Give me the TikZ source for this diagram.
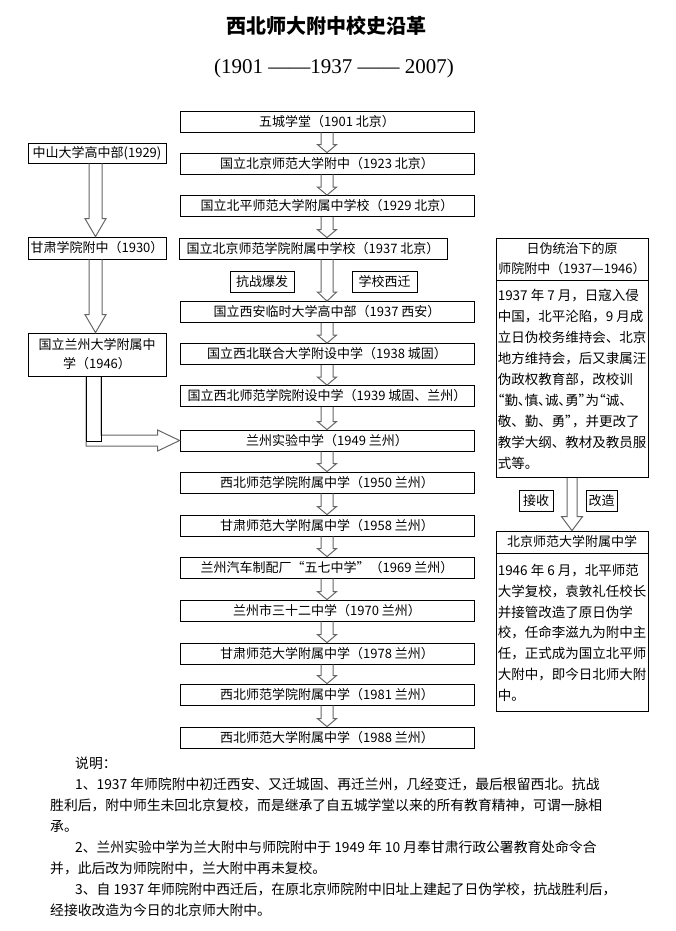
\documentclass[tikz,border=0pt]{standalone}
\usepackage{fontspec}
\setmainfont{Noto Sans CJK SC}
\newfontfamily\latinserif{Liberation Serif}
\newcommand{\narrowpunct}[1]{{\addfontfeatures{RawFeature=+palt}#1}}
\usetikzlibrary{positioning,calc}

\begin{document}
\begin{tikzpicture}[x=1pt,y=-1pt,
  stage/.style={draw=black,line width=0.8pt,minimum width=294,minimum height=21,inner sep=0pt,font=\fontsize{13}{13}\selectfont},
  side/.style={draw=black,line width=0.8pt,minimum width=138,inner sep=1pt,align=center,font=\fontsize{13}{19}\selectfont},
  tag/.style={draw=black,line width=0.8pt,minimum height=21,inner sep=1pt,font=\fontsize{13}{13}\selectfont},
  panel/.style={draw=black,line width=0.8pt,minimum width=152,inner sep=1pt},
  blockdown/.style args={#1/#2/#3}{draw=black!60,line width=1pt,to path={
    let \p1=(\tikztostart), \p2=(\tikztotarget) in
    (\x1-#1,\y1) -- (\x1-#1,\y2+#3) -- (\x1-#2,\y2+#3) -- (\x1,\y2) -- (\x1+#2,\y2+#3) -- (\x1+#1,\y2+#3) -- (\x1+#1,\y1)}},
  bentarrow/.style={draw=black!60,line width=1pt,to path={
    let \p1=(\tikztostart), \p2=(\tikztotarget) in
    (\x1-7.5pt,\y1) -- (\x1-7.5pt,\y2-5.5pt) -- (\x2-22pt,\y2-5.5pt) -- (\x2-22pt,\y2-10.5pt) -- (\x2,\y2) -- (\x2-22pt,\y2+10.5pt) -- (\x2-22pt,\y2+5.5pt) -- (\x1+7.5pt,\y2+5.5pt) -- (\x1+7.5pt,\y1)}}]
\useasboundingbox (0,0) rectangle (676,931);

% title
\node[font=\fontsize{20}{20}\selectfont\bfseries] (title) at (326,26) {西北师大附中校史沿革};
\node[font=\fontsize{21}{21}\latinserif] (years) at (334,68) {(1901 ——1937 —— 2007)};

% main line
\node[stage] (b1) at (327,121.5) {五城学堂（1901 北京）};
\node[stage] (b2) at (327,163.5) {国立北京师范大学附中（1923 北京）};
\node[stage] (b3) at (327,206) {国立北平师范大学附属中学校（1929 北京）};
\node[stage,minimum width=268] (b4) at (313,248.5) {国立北京师范学院附属中学校（1937 北京）};
\node[stage] (b5) at (327,312) {国立西安临时大学高中部（1937 西安）};
\node[stage] (b6) at (327,354) {国立西北联合大学附设中学（1938 城固）};
\node[stage] (b7) at (327,396) {国立西北师范学院附设中学（1939 城固、兰州）};
\node[stage] (b8) at (327,440.5) {兰州实验中学（1949 兰州）};
\node[stage] (b9) at (327,482.5) {西北师范学院附属中学（1950 兰州）};
\node[stage] (b10) at (327,525.5) {甘肃师范大学附属中学（1958 兰州）};
\node[stage] (b11) at (327,567.5) {兰州汽车制配厂“五七中学”（1969 兰州）};
\node[stage] (b12) at (327,610.5) {兰州市三十二中学（1970 兰州）};
\node[stage] (b13) at (327,653.5) {甘肃师范大学附属中学（1978 兰州）};
\node[stage] (b14) at (327,694.5) {西北师范学院附属中学（1981 兰州）};
\node[stage] (b15) at (327,737.5) {西北师范大学附属中学（1988 兰州）};

\node[tag,minimum width=64] (war) at (262,281.5) {抗战爆发};
\node[tag,minimum width=65] (west) at (384.5,281.5) {学校西迁};

\draw[blockdown=6pt/9.5pt/8pt] (b1.south) to (b2.north);
\draw[blockdown=6pt/9.5pt/8pt] (b2.south) to (b3.north);
\draw[blockdown=6pt/9.5pt/8pt] (b3.south) to (b4.south |- b4.north);
\draw[blockdown=6pt/9.5pt/9pt] (b4.south -| b5.north) to (b5.north);
\draw[blockdown=6pt/9.5pt/8pt] (b5.south) to (b6.north);
\draw[blockdown=6pt/9.5pt/8pt] (b6.south) to (b7.north);
\draw[blockdown=6pt/9.5pt/8pt] (b7.south) to (b8.north);
\draw[blockdown=6pt/9.5pt/8pt] (b8.south) to (b9.north);
\draw[blockdown=6pt/9.5pt/8pt] (b9.south) to (b10.north);
\draw[blockdown=6pt/9.5pt/8pt] (b10.south) to (b11.north);
\draw[blockdown=6pt/9.5pt/8pt] (b11.south) to (b12.north);
\draw[blockdown=6pt/9.5pt/8pt] (b12.south) to (b13.north);
\draw[blockdown=6pt/9.5pt/8pt] (b13.south) to (b14.north);
\draw[blockdown=6pt/9.5pt/8pt] (b14.south) to (b15.north);

% left line
\node[side,minimum height=20] (l1) at (97,153) {中山大学高中部(1929)};
\node[side,minimum height=22] (l2) at (97,248) {甘肃学院附中（1930）};
\node[side,minimum height=43] (l3) at (97,354.5) {国立兰州大学附属中\\学（1946）};

\draw[blockdown=6.5pt/10.5pt/18pt] ([xshift=-1.5]l1.south) to ([xshift=-1.5]l2.north);
\draw[blockdown=6.5pt/10.5pt/18pt] ([xshift=-1.5]l2.south) to ([xshift=-1.5]l3.north);
\draw[bentarrow] ([xshift=-3.5]l3.south) to (b8.west);
\draw[line width=0.8pt] ([xshift=-11]l3.south) rectangle ([xshift=4,yshift=-65]l3.south);

% right line
\node[panel,minimum height=42,align=center,font=\fontsize{13}{20}\selectfont] (r1h) at (572,259) {日伪统治下的原\\师院附中（1937—1946）};
\node[panel,minimum height=197,align=left,font=\fontsize{13.5}{21}\selectfont,below=0pt of r1h] (r1) {1937 年 7 月，日寇入侵\\中国，北平沦陷，9 月成\\立日伪校务维持会、北京\\地方维持会，后又隶属汪\\伪政权教育部，改校训\\\narrowpunct{“勤、慎、诚、勇”}为\narrowpunct{“}诚、\\敬、勤、勇\narrowpunct{”}，并更改了\\教学大纲、教材及教员服\\式等。};
\node[panel,minimum height=22,font=\fontsize{13}{13}\selectfont] (r2h) at (572,542) {北京师范大学附属中学};
\node[panel,minimum height=158,align=left,font=\fontsize{13.5}{20.8}\selectfont,below=0pt of r2h] (r2) {1946 年 6 月，北平师范\\大学复校，袁敦礼任校长\\并接管改造了原日伪学\\校，任命李滋九为附中主\\任，正式成为国立北平师\\大附中，即今日北师大附\\中。};

\node[tag,minimum width=34] (take) at (536,500.5) {接收};
\node[tag,minimum width=31] (remake) at (601.5,500.5) {改造};

\draw[blockdown=5pt/10.5pt/14pt] (r1.south) to (r2h.north);

% notes
\node[anchor=north west,inner sep=0pt,align=left,font=\fontsize{13.8}{21}\selectfont] (notes) at (50,757) {\hspace*{25pt}说明：\\
\hspace*{25pt}1、1937 年师院附中初迁西安、又迁城固、再迁兰州，几经变迁，最后根留西北。抗战\\
胜利后，附中师生未回北京复校，而是继承了自五城学堂以来的所有教育精神，可谓一脉相\\
承。\\
\hspace*{25pt}2、兰州实验中学为兰大附中与师院附中于 1949 年 10 月奉甘肃行政公署教育处命令合\\
并，此后改为师院附中，兰大附中再未复校。\\
\hspace*{25pt}3、自 1937 年师院附中西迁后，在原北京师院附中旧址上建起了日伪学校，抗战胜利后，\\
经接收改造为今日的北京师大附中。};
\end{tikzpicture}
\end{document}
